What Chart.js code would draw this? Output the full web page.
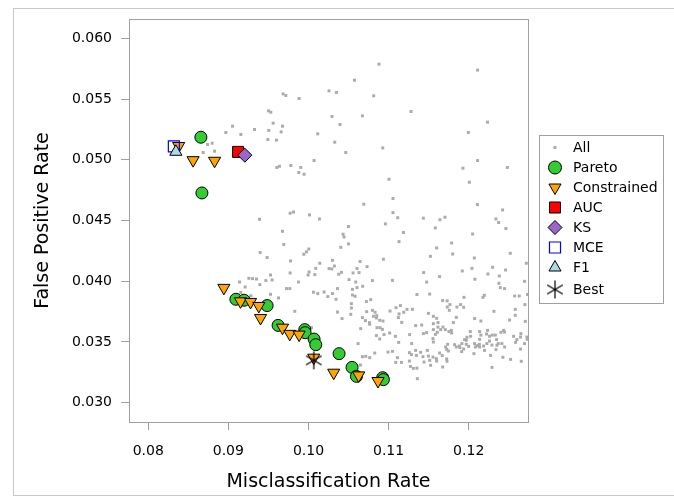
<!DOCTYPE html>
<html>
<head>
<meta charset="utf-8">
<script src="https://cdn.jsdelivr.net/npm/chart.js@4.4.1/dist/chart.umd.min.js"></script>
<style>
  html, body { margin: 0; padding: 0; background: #fff; }
  #wrap { width: 674px; height: 502px; }
</style>
</head>
<body>
<div id="wrap"><canvas id="myChart" width="674" height="502"></canvas></div>
<script>
// tick values
const xTicks = [0.08, 0.09, 0.10, 0.11, 0.12];
const yTicks = [0.030, 0.035, 0.040, 0.045, 0.050, 0.055, 0.060];

// every candidate model (misclassification rate, false positive rate)
const allPoints = [
  [0.10880,0.05788],[0.12111,0.05739],[0.10574,0.05656],[0.09683,0.05543],[0.09717,0.05530],
  [0.09883,0.05505],[0.10256,0.05568],[0.10349,0.05555],[0.10814,0.05527],[0.11280,0.05398],
  [0.09501,0.05403],[0.09530,0.05392],[0.09559,0.05302],[0.09676,0.05277],[0.09327,0.05250],
  [0.09505,0.05242],[0.09659,0.05230],[0.10294,0.05357],[0.10673,0.05362],[0.10394,0.05291],
  [0.10116,0.05214],[0.12235,0.05310],[0.11995,0.05225],[0.09493,0.05167],[0.09601,0.05162],
  [0.10328,0.05145],[0.10927,0.05098],[0.10465,0.05060],[0.12482,0.04937],[0.12111,0.04994],
  [0.11928,0.04931],[0.12008,0.04815],[0.09605,0.04937],[0.09638,0.04947],[0.09780,0.04953],
  [0.09904,0.04937],[0.09879,0.04895],[0.09945,0.04881],[0.10070,0.04994],[0.11005,0.04840],
  [0.11055,0.04681],[0.10690,0.04634],[0.12108,0.04631],[0.12423,0.04587],[0.09771,0.04560],
  [0.09813,0.04570],[0.10013,0.04546],[0.10137,0.04513],[0.09389,0.04510],[0.11055,0.04565],
  [0.11114,0.04523],[0.11434,0.04519],[0.11641,0.04506],[0.11704,0.04527],[0.12340,0.04513],
  [0.09052,0.05277],[0.08969,0.05225],[0.09156,0.05209],[0.08741,0.05126],[0.08798,0.05137],
  [0.08686,0.05060],[0.08828,0.05071],[0.09676,0.04411],[0.09692,0.04302],[0.09397,0.04236],
  [0.09484,0.04195],[0.09776,0.04167],[0.09942,0.04222],[0.09975,0.04242],[0.10004,0.04265],
  [0.09526,0.04051],[0.09771,0.04068],[0.09256,0.04024],[0.09302,0.04021],[0.09352,0.04018],
  [0.09140,0.03993],[0.09210,0.03952],[0.09393,0.03972],[0.09468,0.04005],[0.09546,0.04010],
  [0.09726,0.03939],[0.09767,0.03939],[0.09875,0.03993],[0.10960,0.04472],[0.10499,0.04450],
  [0.11185,0.04401],[0.11130,0.04326],[0.10432,0.04387],[0.10444,0.04364],[0.10499,0.04307],
  [0.10403,0.04279],[0.10300,0.04172],[0.10141,0.04148],[0.10644,0.04162],[0.10935,0.04181],
  [0.10731,0.04120],[0.10091,0.04106],[0.10257,0.04104],[0.10291,0.04101],[0.10324,0.04125],
  [0.10606,0.04104],[0.10008,0.04076],[0.09995,0.04051],[0.10079,0.04054],[0.10378,0.04057],
  [0.10412,0.04073],[0.10556,0.04068],[0.10631,0.04071],[0.10506,0.04013],[0.10590,0.03993],
  [0.10798,0.04005],[0.11048,0.04007],[0.10606,0.03947],[0.10677,0.03958],[0.10549,0.03933],
  [0.10362,0.03939],[0.10062,0.03909],[0.10116,0.03898],[0.10195,0.03911],[0.10241,0.03873],
  [0.10300,0.03898],[0.10344,0.03851],[0.10549,0.03886],[0.10582,0.03876],[0.10777,0.03848],
  [0.12373,0.04483],[0.11584,0.04439],[0.12464,0.04434],[0.12049,0.04389],[0.11787,0.04315],
  [0.11600,0.04274],[0.11800,0.04224],[0.11522,0.04205],[0.12519,0.04230],[0.12070,0.04191],
  [0.12719,0.04148],[0.12298,0.04115],[0.12040,0.04106],[0.11920,0.04084],[0.12460,0.04092],
  [0.11438,0.04071],[0.12240,0.04059],[0.12382,0.04043],[0.11637,0.04038],[0.12077,0.04016],
  [0.11475,0.03993],[0.12697,0.03999],[0.12377,0.03983],[0.12394,0.03947],[0.12448,0.03939],
  [0.11354,0.03890],[0.11513,0.03894],[0.11941,0.03867],[0.12195,0.03884],[0.12178,0.03867],
  [0.12573,0.03878],[0.12631,0.03878],[0.12735,0.03890],[0.11675,0.03840],[0.11731,0.03838],
  [0.10723,0.03832],[0.10536,0.03815],[0.10536,0.03779],[0.10528,0.03727],[0.10362,0.03746],
  [0.10419,0.03692],[0.10727,0.03749],[0.10798,0.03760],[0.10831,0.03744],[0.10852,0.03716],
  [0.10811,0.03711],[0.10848,0.03697],[0.10673,0.03700],[0.10711,0.03675],[0.10761,0.03659],
  [0.10764,0.03645],[0.10889,0.03678],[0.10930,0.03672],[0.10855,0.03617],[0.10893,0.03617],
  [0.10923,0.03603],[0.10652,0.03609],[0.10848,0.03552],[0.10889,0.03524],[0.10943,0.03560],
  [0.11018,0.03754],[0.11093,0.03782],[0.11148,0.03799],[0.11189,0.03744],[0.11130,0.03730],
  [0.11122,0.03700],[0.11164,0.03661],[0.11230,0.03768],[0.11297,0.03768],[0.11085,0.03546],
  [0.11126,0.03496],[0.11014,0.03573],[0.11263,0.03560],[0.11288,0.03486],[0.11260,0.03411],
  [0.11285,0.03395],[0.10619,0.03486],[0.10993,0.03416],[0.11048,0.03422],[0.10827,0.03408],
  [0.10673,0.03378],[0.10715,0.03381],[0.10764,0.03370],[0.11110,0.03370],[0.11089,0.03331],
  [0.11160,0.03331],[0.11260,0.03342],[0.11272,0.03298],[0.11309,0.03282],[0.10648,0.03309],
  [0.11758,0.03760],[0.11766,0.03807],[0.11733,0.03787],[0.12701,0.03807],[0.11853,0.03787],
  [0.11899,0.03807],[0.11937,0.03785],[0.12315,0.03752],[0.12581,0.03768],[0.12581,0.03719],
  [0.11497,0.03735],[0.11559,0.03711],[0.11600,0.03694],[0.11845,0.03702],[0.12074,0.03692],
  [0.12152,0.03672],[0.12510,0.03680],[0.12706,0.03669],[0.11338,0.03634],[0.11413,0.03639],
  [0.11616,0.03659],[0.11559,0.03650],[0.11616,0.03622],[0.11650,0.03601],[0.11679,0.03622],
  [0.11708,0.03601],[0.11808,0.03659],[0.11559,0.03601],[0.11584,0.03562],[0.11434,0.03568],
  [0.11475,0.03576],[0.11608,0.03579],[0.11753,0.03585],[0.11783,0.03595],[0.11787,0.03573],
  [0.11554,0.03527],[0.11559,0.03499],[0.12020,0.03585],[0.12024,0.03546],[0.11978,0.03538],
  [0.11949,0.03519],[0.12136,0.03585],[0.12152,0.03556],[0.12136,0.03521],[0.12235,0.03595],
  [0.12223,0.03565],[0.12260,0.03546],[0.12294,0.03556],[0.12332,0.03556],[0.12402,0.03579],
  [0.12435,0.03595],[0.12448,0.03581],[0.12348,0.03519],[0.12369,0.03486],[0.12414,0.03486],
  [0.12448,0.03458],[0.12560,0.03546],[0.12601,0.03519],[0.12585,0.03496],[0.12651,0.03568],
  [0.12647,0.03540],[0.12726,0.03540],[0.12731,0.03521],[0.12697,0.03486],[0.11737,0.03480],
  [0.11712,0.03458],[0.11725,0.03439],[0.11746,0.03425],[0.11725,0.03359],[0.11729,0.03340],
  [0.11675,0.03293],[0.11824,0.03477],[0.11845,0.03458],[0.11883,0.03466],[0.11915,0.03486],
  [0.11890,0.03453],[0.11937,0.03441],[0.11912,0.03420],[0.11970,0.03513],[0.11970,0.03480],
  [0.11999,0.03463],[0.12074,0.03486],[0.12108,0.03469],[0.12133,0.03480],[0.12083,0.03458],
  [0.12136,0.03458],[0.12186,0.03466],[0.12198,0.03430],[0.12227,0.03486],[0.12260,0.03507],
  [0.12352,0.03472],[0.12290,0.03474],[0.12340,0.03436],[0.12065,0.03403],[0.12273,0.03389],
  [0.12427,0.03373],[0.12523,0.03356],[0.12647,0.03441],[0.12656,0.03340],[0.12290,0.03290],
  [0.11338,0.03430],[0.11347,0.03389],[0.11400,0.03414],[0.11484,0.03430],[0.11497,0.03383],
  [0.11429,0.03378],[0.11442,0.03334],[0.11513,0.03348],[0.11554,0.03375],[0.11596,0.03362],
  [0.11600,0.03342],[0.11637,0.03408],[0.11525,0.03307],[0.11354,0.03284],[0.11359,0.03197],
  [0.11670,0.03387],[0.09156,0.03906],[0.09281,0.03880],[0.09526,0.03892],[0.09626,0.03862],
  [0.09829,0.03752],[0.10038,0.03617]
];

const paretoPoints = [
  [0.08657,0.05186],[0.08670,0.04727],[0.09094,0.03851],[0.09197,0.03843],[0.09484,0.03799],
  [0.09621,0.03636],[0.09954,0.03601],[0.09958,0.03576],[0.10070,0.03523],[0.10091,0.03477],
  [0.10382,0.03403],[0.10544,0.03290],[0.10599,0.03216],[0.10926,0.03205],[0.10935,0.03189]
];

const constrainedPoints = [
  [0.08380,0.05114],[0.08560,0.04997],[0.08828,0.04992],[0.08944,0.03945],[0.09152,0.03834],
  [0.09277,0.03829],[0.09380,0.03796],[0.09402,0.03697],[0.09676,0.03617],[0.09767,0.03566],
  [0.09883,0.03560],[0.10066,0.03370],[0.10315,0.03246],[0.10627,0.03224],[0.10868,0.03178]
];

const aucPoint = [[0.09122,0.05065]];
const ksPoint = [[0.09206,0.05038]];
const mcePoint = [[0.08320,0.05110]];
const f1Point = [[0.08345,0.05066]];
const bestPoint = [[0.10066,0.03348]];

const toXY = (list) => list.map(([x, y]) => ({ x, y }));

// asterisk marker for "Best"
const bestMark = document.createElement('canvas');
bestMark.width = 20;
bestMark.height = 20;
const bctx = bestMark.getContext('2d');
bctx.strokeStyle = '#000';
bctx.lineWidth = 1.2;
bctx.beginPath();
[90, 30, 150].forEach((deg) => {
  const t = deg * Math.PI / 180;
  bctx.moveTo(10 - 9 * Math.cos(t), 10 - 9 * Math.sin(t));
  bctx.lineTo(10 + 9 * Math.cos(t), 10 + 9 * Math.sin(t));
});
bctx.stroke();

const FONT = 'DejaVu Sans';
const GRAY = '#a0a0a0';

const makeSet = (label, pts, style) => ({
  label,
  data: toXY(pts),
  showLine: false,
  pointStyle: style.shape,
  pointRotation: style.rotation || 0,
  pointRadius: style.radius,
  pointHoverRadius: style.radius,
  pointBackgroundColor: style.fill,
  pointBorderColor: style.stroke,
  pointBorderWidth: style.borderWidth,
  pointHoverBorderWidth: style.borderWidth,
  order: style.order,
  legendRadius: style.legendRadius || style.radius
});

const datasets = [
  makeSet('All', allPoints, { shape: 'rect', radius: 2.1, fill: '#ababab', stroke: '#ababab', borderWidth: 0, order: 7 }),
  makeSet('Pareto', paretoPoints, { shape: 'circle', radius: 6, fill: '#33cc33', stroke: '#000', borderWidth: 1, order: 6, legendRadius: 6.5 }),
  makeSet('Constrained', constrainedPoints, { shape: 'triangle', rotation: 180, radius: 7, fill: '#ffa500', stroke: '#000', borderWidth: 1, order: 5 }),
  makeSet('AUC', aucPoint, { shape: 'rect', radius: 7.8, fill: '#ff0000', stroke: '#000', borderWidth: 1, order: 4 }),
  makeSet('KS', ksPoint, { shape: 'rectRot', radius: 7, fill: '#9966cc', stroke: '#000', borderWidth: 1, order: 3 }),
  makeSet('MCE', mcePoint, { shape: 'rect', radius: 7.8, fill: 'rgba(0,0,0,0)', stroke: '#0000ff', borderWidth: 1.2, order: 2 }),
  makeSet('F1', f1Point, { shape: 'triangle', radius: 7, fill: '#add8e6', stroke: '#000', borderWidth: 1, order: 1 }),
  makeSet('Best', bestPoint, { shape: bestMark, radius: 9, fill: '#000', stroke: '#000', borderWidth: 1, order: 0 })
];

// frame round the plot, outer border and the boxed legend
const decorations = {
  id: 'decorations',
  afterDatasetsDraw(chart) {
    const { ctx, chartArea: a } = chart;
    ctx.save();
    ctx.strokeStyle = GRAY;
    ctx.lineWidth = 1;
    ctx.strokeRect(Math.round(a.left) + 0.5, Math.round(a.top) + 0.5,
      Math.round(a.right - a.left), Math.round(a.bottom - a.top));
    ctx.restore();
  },
  afterDraw(chart) {
    const { ctx } = chart;
    ctx.save();
    ctx.strokeStyle = '#c8c8c8';
    ctx.lineWidth = 1;
    ctx.strokeRect(13.5, 8.5, 700, 487);

    ctx.strokeStyle = GRAY;
    ctx.strokeRect(539.5, 135.5, 124, 168);
    ctx.font = `14px "${FONT}"`;
    ctx.textBaseline = 'middle';
    ctx.textAlign = 'left';
    chart.data.datasets.forEach((ds, i) => {
      const y = 147.5 + i * 20 + (i === 7 ? 2 : 0);
      ctx.fillStyle = ds.pointBackgroundColor;
      ctx.strokeStyle = ds.pointBorderColor;
      ctx.lineWidth = ds.pointBorderWidth;
      Chart.helpers.drawPoint(ctx, {
        pointStyle: ds.pointStyle,
        rotation: ds.pointRotation,
        radius: ds.legendRadius,
        borderWidth: ds.pointBorderWidth
      }, 555, y);
      ctx.fillStyle = '#000';
      ctx.fillText(ds.label, 573, y + 0.5);
    });
    ctx.restore();
  }
};

const tickFont = { family: FONT, size: 14 };
const titleFont = { family: FONT, size: 19 };

new Chart(document.getElementById('myChart'), {
  type: 'scatter',
  data: { datasets },
  options: {
    responsive: false,
    animation: false,
    events: [],
    layout: { padding: { top: 19, right: 146, bottom: 0, left: 0 } },
    plugins: { legend: { display: false }, tooltip: { enabled: false } },
    scales: {
      x: {
        min: 0.0776,
        max: 0.1274,
        afterBuildTicks: (s) => { s.ticks = xTicks.map((v) => ({ value: v })); },
        afterFit: (s) => { s.height = 80; },
        ticks: { font: tickFont, color: '#000', padding: 13, callback: (v) => v.toFixed(2) },
        grid: { drawOnChartArea: false, tickLength: 8, color: GRAY, tickColor: GRAY },
        border: { color: GRAY },
        title: { display: true, text: 'Misclassification Rate', font: titleFont, color: '#000', padding: { top: 0, bottom: 9 } }
      },
      y: {
        min: 0.0284,
        max: 0.0616,
        afterBuildTicks: (s) => { s.ticks = yTicks.map((v) => ({ value: v })); },
        afterFit: (s) => { s.width = 129; },
        ticks: { font: tickFont, color: '#000', padding: 9, callback: (v) => v.toFixed(3) },
        grid: { drawOnChartArea: false, tickLength: 8, color: GRAY, tickColor: GRAY },
        border: { color: GRAY },
        title: { display: true, text: 'False Positive Rate', font: titleFont, color: '#000', padding: { top: 32, bottom: 0 } }
      }
    }
  },
  plugins: [decorations]
});
</script>
</body>
</html>
